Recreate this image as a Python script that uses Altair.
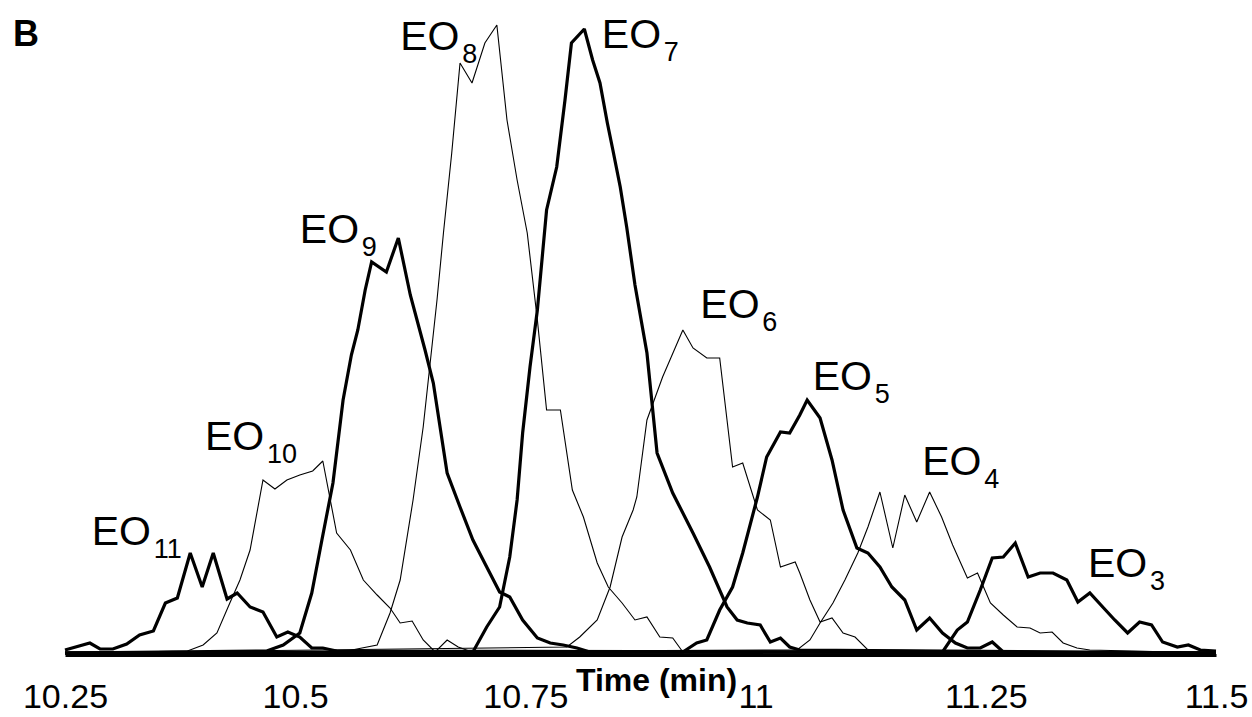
import altair as alt
import pandas as pd

# ---- data (time in min, intensity in arbitrary units) ----
EO11_T = [10.250, 10.277, 10.288, 10.302, 10.317, 10.331, 10.346, 10.359, 10.372, 10.386, 10.399, 10.411, 10.426, 10.437, 10.451, 10.465, 10.480, 10.492, 10.505, 10.518, 10.530, 10.545, 11.500]
EO11_V = [5, 12, 6, 6, 11, 20, 24, 52, 57, 102, 68, 102, 56, 62, 48, 43, 18, 23, 18, 7, 7, 4, 2]

EO10_T = [10.250, 10.383, 10.400, 10.415, 10.429, 10.440, 10.451, 10.465, 10.478, 10.491, 10.505, 10.519, 10.530, 10.545, 10.560, 10.574, 10.589, 10.603, 10.614, 10.627, 10.639, 10.652, 10.665, 10.677, 10.692, 11.500]
EO10_V = [2, 4, 10, 22, 52, 75, 105, 175, 166, 175, 180, 184, 194, 122, 105, 75, 60, 47, 32, 34, 15, 3, 15, 8, 3, 2]

EO9_T = [10.250, 10.469, 10.487, 10.505, 10.518, 10.529, 10.541, 10.552, 10.561, 10.568, 10.576, 10.583, 10.599, 10.612, 10.625, 10.641, 10.650, 10.665, 10.679, 10.693, 10.708, 10.722, 10.733, 10.747, 10.763, 10.777, 10.791, 10.806, 10.820, 11.500]
EO9_V = [2, 4, 10, 22, 62, 115, 172, 255, 300, 325, 365, 393, 383, 417, 360, 305, 272, 182, 148, 115, 88, 63, 58, 35, 17, 12, 10, 7, 3, 2]

EO8_T = [10.250, 10.556, 10.589, 10.603, 10.614, 10.628, 10.639, 10.654, 10.661, 10.670, 10.679, 10.692, 10.706, 10.719, 10.730, 10.741, 10.752, 10.763, 10.773, 10.788, 10.801, 10.813, 10.828, 10.840, 10.855, 10.869, 10.882, 10.896, 10.910, 10.921, 11.500]
EO8_V = [2, 4, 10, 42, 75, 155, 228, 355, 422, 502, 592, 572, 612, 630, 535, 475, 422, 335, 245, 245, 165, 138, 92, 68, 52, 35, 38, 18, 17, 3, 2]

EO7_T = [10.250, 10.693, 10.708, 10.722, 10.733, 10.741, 10.747, 10.755, 10.763, 10.773, 10.784, 10.793, 10.800, 10.814, 10.823, 10.831, 10.839, 10.845, 10.853, 10.860, 10.869, 10.882, 10.893, 10.910, 10.932, 10.950, 10.969, 10.980, 10.991, 11.005, 11.016, 11.027, 11.037, 11.048, 11.500]
EO7_V = [2, 3, 28, 48, 98, 155, 222, 288, 345, 445, 488, 555, 612, 626, 595, 572, 532, 505, 468, 428, 370, 302, 202, 162, 122, 88, 48, 35, 32, 30, 13, 17, 8, 5, 2]

EO6_T = [10.250, 10.795, 10.809, 10.828, 10.842, 10.855, 10.867, 10.871, 10.882, 10.899, 10.921, 10.932, 10.947, 10.961, 10.975, 10.986, 11.002, 11.016, 11.027, 11.043, 11.048, 11.059, 11.070, 11.083, 11.095, 11.108, 11.122, 11.500]
EO6_V = [2, 8, 18, 35, 68, 118, 145, 158, 235, 278, 325, 307, 297, 297, 188, 192, 145, 135, 88, 93, 82, 55, 33, 37, 22, 18, 5, 2]

EO5_T = [10.250, 10.921, 10.936, 10.947, 10.961, 10.975, 10.986, 11.002, 11.012, 11.027, 11.037, 11.048, 11.056, 11.070, 11.083, 11.095, 11.110, 11.122, 11.135, 11.148, 11.162, 11.175, 11.189, 11.203, 11.217, 11.230, 11.244, 11.257, 11.269, 11.500]
EO5_V = [2, 3, 12, 15, 45, 68, 102, 158, 198, 223, 222, 240, 255, 237, 195, 145, 107, 102, 88, 68, 55, 25, 37, 22, 12, 7, 7, 13, 3, 2]

EO4_T = [10.250, 11.045, 11.059, 11.070, 11.084, 11.097, 11.111, 11.122, 11.135, 11.149, 11.162, 11.175, 11.189, 11.202, 11.214, 11.230, 11.241, 11.255, 11.269, 11.284, 11.298, 11.309, 11.322, 11.334, 11.349, 11.363, 11.500]
EO4_V = [2, 5, 15, 32, 52, 75, 102, 128, 163, 107, 160, 133, 163, 138, 110, 77, 82, 52, 40, 28, 27, 22, 23, 12, 7, 5, 2]

EO3_T = [10.250, 11.203, 11.219, 11.230, 11.244, 11.257, 11.269, 11.282, 11.296, 11.309, 11.323, 11.338, 11.350, 11.363, 11.377, 11.390, 11.404, 11.417, 11.430, 11.442, 11.458, 11.470, 11.483, 11.500]
EO3_V = [2, 3, 25, 33, 65, 97, 98, 112, 78, 82, 82, 75, 53, 62, 48, 35, 22, 33, 30, 13, 8, 10, 5, 4]

SERIES = ["EO11", "EO10", "EO9", "EO8", "EO7", "EO6", "EO5", "EO4", "EO3"]
WEIGHT = ["thick", "thin", "thick", "thin", "thick", "thin", "thick", "thin", "thick"]
TIMES = [EO11_T, EO10_T, EO9_T, EO8_T, EO7_T, EO6_T, EO5_T, EO4_T, EO3_T]
VALUES = [EO11_V, EO10_V, EO9_V, EO8_V, EO7_V, EO6_V, EO5_V, EO4_V, EO3_V]

# peak labels: subscript number and anchor (time, intensity) of the label's baseline start
LABEL_SUB = ["11", "10", "9", "8", "7", "6", "5", "4", "3"]
LABEL_T = [10.279, 10.402, 10.505, 10.614, 10.833, 10.940, 11.062, 11.181, 11.361]
LABEL_V = [110, 205, 412, 605, 607, 337, 265, 180, 78]

X_TICKS = [10.25, 10.5, 10.75, 11, 11.25, 11.5]
PANEL = ["B"]

rows = []
for name, w, ts, vs in zip(SERIES, WEIGHT, TIMES, VALUES):
    for t, v in zip(ts, vs):
        rows.append({"series": name, "weight": w, "time": t, "intensity": v})
df = pd.DataFrame(rows)

labels = pd.DataFrame({"main": ["EO"] * len(LABEL_SUB), "sub": LABEL_SUB,
                       "time": LABEL_T, "intensity": LABEL_V})

FONT = "Liberation Sans"

x_enc = alt.X("time:Q",
              scale=alt.Scale(domain=[10.25, 11.5], nice=False, zero=False),
              axis=alt.Axis(values=X_TICKS, format=".4~g", grid=False, ticks=False,
                            domainColor="black", domainWidth=3,
                            labelFont=FONT, labelFontSize=34, labelColor="black",
                            labelPadding=25, labelFlush=False,
                            title="Time (min)", titleFont=FONT, titleFontSize=32,
                            titleFontWeight="bold", titleColor="black",
                            titleX=591, titleY=35, titleAlign="center",
                            titleBaseline="alphabetic"))
y_enc = alt.Y("intensity:Q", scale=alt.Scale(domain=[0, 635], nice=False), axis=None)

lines = alt.Chart(df).mark_line(color="black", strokeJoin="miter", strokeMiterLimit=2).encode(
    x=x_enc,
    y=y_enc,
    detail="series:N",
    strokeWidth=alt.StrokeWidth("weight:N",
                                scale=alt.Scale(domain=["thick", "thin"], range=[3.2, 1.1]),
                                legend=None),
)

main_txt = alt.Chart(labels).mark_text(align="left", baseline="alphabetic", font=FONT,
                                       fontSize=41, color="black").encode(
    x="time:Q", y="intensity:Q", text="main:N")
sub_txt = alt.Chart(labels).mark_text(align="left", baseline="alphabetic", font=FONT,
                                      fontSize=27, color="black", dx=62, dy=13).encode(
    x="time:Q", y="intensity:Q", text="sub:N")

panel_txt = alt.Chart(pd.DataFrame({"panel": PANEL})).mark_text(
    align="left", baseline="alphabetic", font=FONT, fontSize=36, fontWeight="bold",
    color="black").encode(x=alt.value(-52), y=alt.value(26), text="panel:N")

chart = alt.layer(lines, main_txt, sub_txt, panel_txt).properties(
    width=1151, height=635,
    autosize=alt.AutoSizeParams(type="none"),
    padding={"left": 65, "top": 20, "right": 36, "bottom": 62},
    background="white",
).configure_view(stroke=None)

chart.save("out.html", embed_options={"renderer": "svg", "actions": False})
